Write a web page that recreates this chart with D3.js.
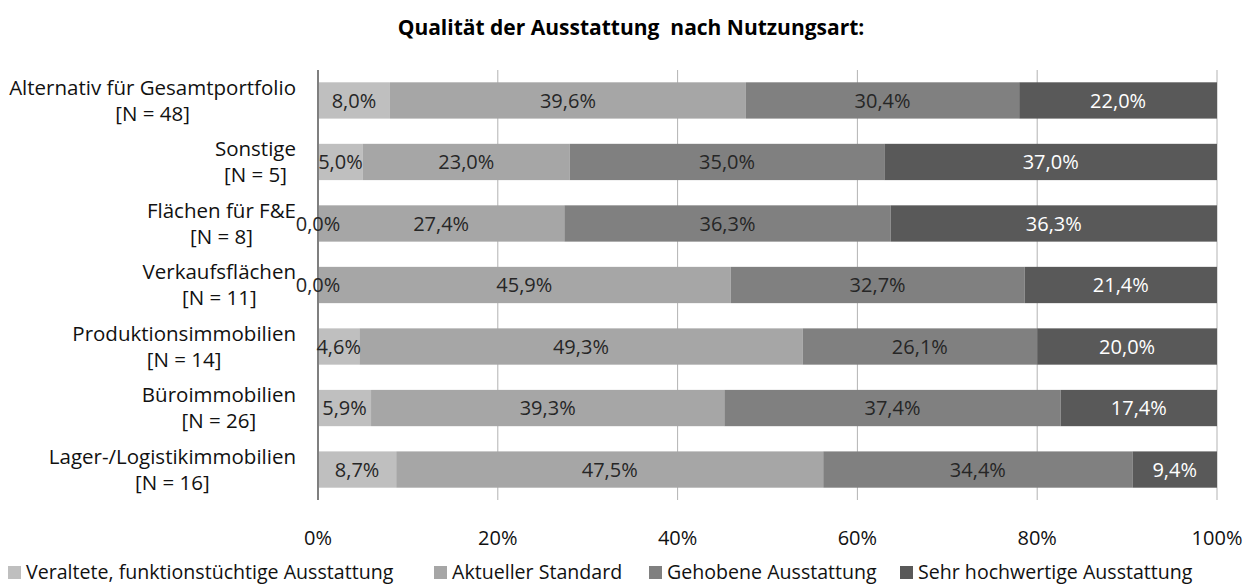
<!DOCTYPE html>
<html>
<head>
<meta charset="utf-8">
<script src="https://cdn.jsdelivr.net/npm/d3@7"></script>
<style>
body { margin: 0; background: #fff; }
text { font-family: "Open Sans", sans-serif; }
</style>
</head>
<body>
<svg id="chart" width="1253" height="586"></svg>
<script>
var categories = ["Alternativ für Gesamtportfolio", "Sonstige", "Flächen für F&E", "Verkaufsflächen",
  "Produktionsimmobilien", "Büroimmobilien", "Lager-/Logistikimmobilien"];
var counts = ["[N = 48]", "[N = 5]", "[N = 8]", "[N = 11]", "[N = 14]", "[N = 26]", "[N = 16]"];
var keys = ["Veraltete, funktionstüchtige Ausstattung", "Aktueller Standard", "Gehobene Ausstattung", "Sehr hochwertige Ausstattung"];
var veraltet = [8.0, 5.0, 0.0, 0.0, 4.6, 5.9, 8.7];
var aktuell = [39.6, 23.0, 27.4, 45.9, 49.3, 39.3, 47.5];
var gehoben = [30.4, 35.0, 36.3, 32.7, 26.1, 37.4, 34.4];
var hochwertig = [22.0, 37.0, 36.3, 21.4, 20.0, 17.4, 9.4];
var xTicks = [0, 0.2, 0.4, 0.6, 0.8, 1.0];

var svg = d3.select("#chart"),
  margin = {top: 70, right: 36, bottom: 86, left: 318},
  width = +svg.attr("width") - margin.left - margin.right,
  height = +svg.attr("height") - margin.top - margin.bottom,
  g = svg.append("g").attr("transform", "translate(" + margin.left + "," + margin.top + ")");

var data = categories.map(function(c, i) {
  return {cat: c, n: counts[i], vals: [veraltet[i], aktuell[i], gehoben[i], hochwertig[i]]};
});

var x = d3.scaleLinear().domain([0, 1]).range([0, width]);
var y = d3.scaleBand().domain(categories).range([0, height]).paddingInner(0.41).paddingOuter(0.2);
var z = d3.scaleOrdinal().domain(keys).range(["#bfbfbf", "#a6a6a6", "#808080", "#595959"]);
var fmt = function(v) { return v.toFixed(1).replace(".", ",") + "%"; };

// title
svg.append("text")
  .attr("x", 631).attr("y", 35)
  .attr("text-anchor", "middle")
  .attr("font-weight", "bold")
  .attr("font-size", 21)
  .attr("fill", "#000")
  .attr("xml:space", "preserve")
  .text("Qualität der Ausstattung  nach Nutzungsart:");

// gridlines
g.append("g")
  .selectAll("line")
  .data(xTicks.slice(1))
  .enter().append("line")
  .attr("x1", function(d) { return x(d); })
  .attr("x2", function(d) { return x(d); })
  .attr("y1", 0).attr("y2", height)
  .attr("stroke", "#b3b3b3").attr("stroke-width", 1);

// segments flattened
var segs = [];
data.forEach(function(d) {
  var acc = 0;
  d.vals.forEach(function(v, k) {
    segs.push({cat: d.cat, key: keys[k], k: k, v: v, x0: acc});
    acc += v;
  });
});

g.append("g").selectAll("rect")
  .data(segs)
  .enter().append("rect")
  .attr("x", function(d) { return x(d.x0 / 100); })
  .attr("y", function(d) { return y(d.cat); })
  .attr("width", function(d) { return x(d.v / 100) - x(0); })
  .attr("height", y.bandwidth())
  .attr("fill", function(d) { return z(d.key); });

// left axis line
g.append("line")
  .attr("x1", 0).attr("x2", 0).attr("y1", 0).attr("y2", height)
  .attr("stroke", "#7f7f7f").attr("stroke-width", 2);

g.append("g").selectAll("text")
  .data(segs)
  .enter().append("text")
  .attr("x", function(d) { return x((d.x0 + d.v / 2) / 100); })
  .attr("y", function(d) { return y(d.cat) + y.bandwidth() / 2; })
  .attr("dy", "0.36em")
  .attr("text-anchor", "middle")
  .attr("font-size", 20)
  .attr("fill", function(d) { return d.k == 3 ? "#fff" : "#262626"; })
  .text(function(d) { return fmt(d.v); });

// category labels
var labels = svg.append("g").selectAll("g")
  .data(data)
  .enter().append("g")
  .attr("transform", function(d) { return "translate(296," + (margin.top + y(d.cat) + y.bandwidth() / 2) + ")"; });

labels.each(function(d) {
  var t1 = d3.select(this).append("text")
    .attr("x", 0).attr("y", -13).attr("dy", "0.35em")
    .attr("text-anchor", "end").attr("font-size", 20.5).attr("fill", "#111")
    .text(d.cat);
  var w = t1.node().getComputedTextLength();
  d3.select(this).append("text")
    .attr("x", -w / 2).attr("y", 13).attr("dy", "0.35em")
    .attr("text-anchor", "middle").attr("font-size", 20.5).attr("fill", "#111")
    .text(d.n);
});

// x tick labels
g.append("g")
  .selectAll("text")
  .data(xTicks)
  .enter().append("text")
  .attr("x", function(d) { return x(d); })
  .attr("y", height + 45)
  .attr("text-anchor", "middle")
  .attr("font-size", 20)
  .attr("fill", "#111")
  .text(d3.format(".0%"));

// legend
var legX = [8, 434, 649, 900];
var legend = svg.append("g").selectAll("g")
  .data(keys)
  .enter().append("g")
  .attr("transform", function(d, i) { return "translate(" + legX[i] + ",572)"; });

legend.append("rect")
  .attr("x", 0).attr("y", -6)
  .attr("width", 13).attr("height", 13)
  .attr("fill", z);

legend.append("text")
  .attr("x", 18).attr("dy", "0.35em")
  .attr("font-size", 19.6).attr("fill", "#111")
  .text(function(d) { return d; });
</script>
</body>
</html>
